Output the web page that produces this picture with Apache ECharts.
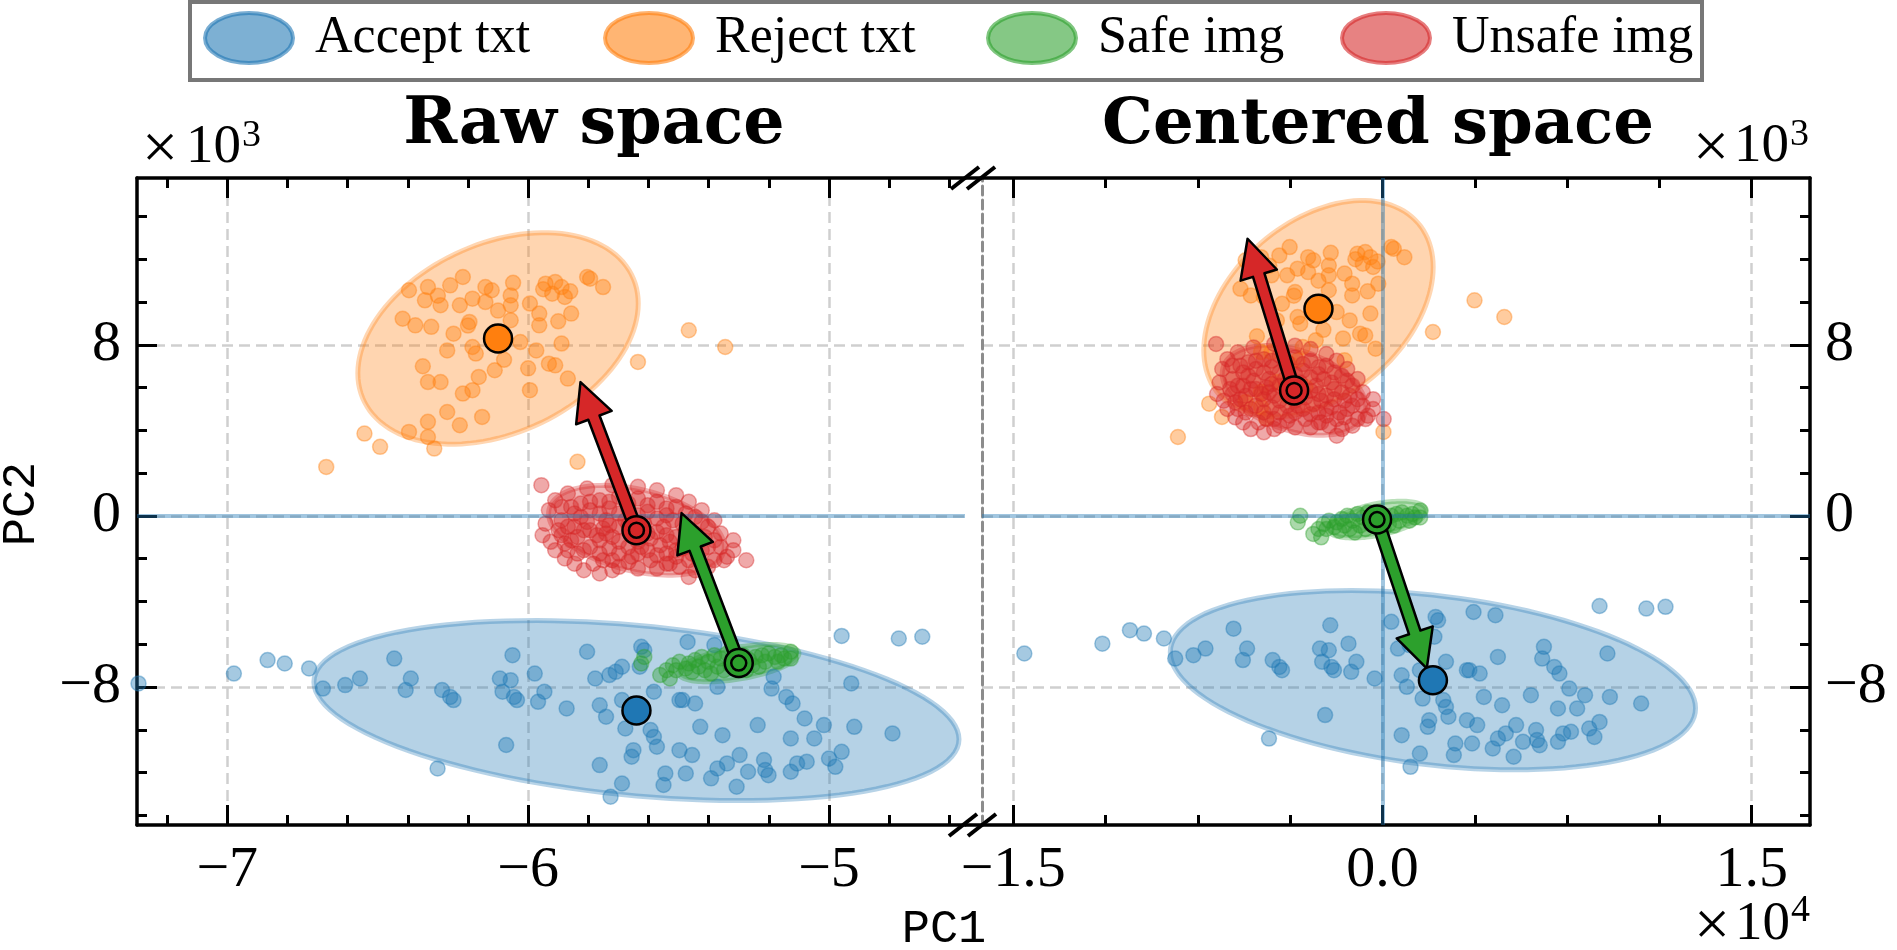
<!DOCTYPE html>
<html>
<head>
<meta charset="utf-8">
<script src="https://cdn.jsdelivr.net/npm/echarts@6/dist/echarts.min.js"></script>
<style>
  html, body { margin: 0; padding: 0; background: #fff; }
  #chart { width: 1897px; height: 950px; }
</style>
</head>
<body>
<div id="chart"></div>
<script>
// class order used everywhere: accept txt, reject txt, safe img, unsafe img
const classNames = ['Accept txt', 'Reject txt', 'Safe img', 'Unsafe img']
const classColors = ['#1f77b4', '#ff7f0e', '#2ca02c', '#d62728']

// tick values (PC1 in 1e4, PC2 in 1e3)
const xTicksRaw = [-7, -6, -5]
const xMinorRaw = [-7.2, -6.8, -6.6, -6.4, -6.2, -5.8, -5.6, -5.4, -5.2, -4.8, -4.6]
const xTicksCen = [-1.5, 0, 1.5]
const xMinorCen = [-1.125, -0.75, -0.375, 0.375, 0.75, 1.125]
const yTicks = [-8, 0, 8]
const yMinor = [-14, -12, -10, -6, -4, -2, 2, 4, 6, 10, 12, 14]
const xRangeRaw = [-7.3, -4.548]
const xRangeCen = [-1.627, 1.737]
const yRange = [-14.45, 15.8]

// raw space samples (PC1, PC2)
const acceptRaw = [
  [-7.295, -7.83], [-6.978, -7.37], [-6.866, -6.74], [-6.809, -6.90], [-6.728, -7.13], [-6.682, -8.07],
  [-6.608, -7.91], [-6.559, -7.60], [-6.445, -6.67], [-6.390, -7.60], [-6.407, -8.14], [-6.286, -8.14],
  [-6.259, -8.46], [-6.248, -8.61], [-6.094, -7.60], [-6.058, -7.68], [-6.085, -8.22], [-6.047, -8.46],
  [-6.037, -8.61], [-5.978, -7.37], [-6.052, -6.51], [-5.946, -8.22], [-5.967, -8.69], [-5.872, -9.00],
  [-5.804, -6.35], [-5.777, -7.60], [-5.730, -7.44], [-5.709, -7.29], [-5.688, -7.05], [-5.762, -8.85],
  [-5.741, -9.39], [-5.688, -8.61], [-5.677, -9.94], [-5.624, -6.12], [-5.614, -6.28], [-5.629, -7.05],
  [-5.582, -8.22], [-5.593, -10.01], [-5.582, -10.33], [-5.572, -10.79], [-5.497, -8.61], [-5.487, -8.61],
  [-5.445, -8.77], [-5.470, -5.89], [-5.381, -6.04], [-5.371, -7.99], [-5.428, -9.86], [-5.354, -10.25],
  [-5.237, -9.78], [-5.184, -7.52], [-5.191, -8.07], [-5.142, -8.46], [-5.121, -8.77], [-5.081, -9.47],
  [-5.017, -9.78], [-4.926, -7.83], [-4.916, -9.86], [-4.789, -10.17], [-5.127, -10.40], [-5.049, -10.40],
  [-4.958, -11.03], [-5.000, -11.34], [-4.979, -11.73], [-5.074, -11.49], [-5.127, -11.96], [-5.212, -11.88],
  [-5.201, -12.12], [-5.297, -11.18], [-5.339, -11.57], [-5.371, -11.81], [-5.392, -12.27], [-5.476, -12.04],
  [-5.455, -11.18], [-5.497, -10.95], [-5.650, -10.95], [-5.656, -11.26], [-5.544, -12.04], [-5.550, -12.58],
  [-5.688, -12.51], [-5.726, -13.13], [-5.762, -11.65], [-6.073, -10.71], [-6.301, -11.81], [-5.269, -11.96],
  [-5.307, -12.66], [-5.216, -11.41], [-5.106, -11.57], [-4.958, -5.61], [-4.768, -5.73], [-4.690, -5.65]
]
const rejectRaw = [
  [-6.217, 11.17], [-6.142, 10.70], [-6.396, 10.55], [-6.333, 10.70], [-6.259, 10.78], [-6.121, 10.55],
  [-6.058, 10.31], [-5.942, 10.86], [-5.910, 10.94], [-5.889, 10.70], [-5.920, 10.39], [-5.878, 10.24],
  [-5.804, 11.17], [-5.751, 10.70], [-5.794, 11.09], [-6.185, 10.16], [-6.227, 9.85], [-6.291, 9.85],
  [-6.343, 10.08], [-6.142, 10.00], [-6.058, 9.85], [-5.994, 9.93], [-5.963, 9.46], [-5.857, 9.46],
  [-6.417, 9.22], [-6.375, 8.91], [-6.322, 8.84], [-6.248, 8.52], [-6.195, 9.07], [-6.185, 7.90],
  [-6.174, 7.59], [-6.026, 8.13], [-5.973, 7.74], [-5.889, 8.06], [-5.963, 8.91], [-5.931, 7.12],
  [-5.910, 7.04], [-5.868, 6.42], [-5.994, 5.88], [-6.111, 6.81], [-6.164, 6.50], [-6.185, 5.88],
  [-6.217, 5.72], [-6.333, 6.26], [-6.291, 6.26], [-6.269, 4.86], [-6.153, 4.63], [-6.227, 4.24],
  [-6.333, 4.40], [-6.396, 3.93], [-6.333, 3.69], [-6.544, 3.85], [-6.492, 3.23], [-6.312, 3.15],
  [-6.671, 2.29], [-5.836, 2.53], [-5.635, 7.20], [-5.466, 8.68], [-5.345, 7.90], [-6.058, 9.15],
  [-6.269, 7.74], [-5.950, 10.60], [-5.860, 10.50], [-6.050, 10.90], [-6.300, 10.30], [-6.100, 9.60],
  [-5.900, 9.10], [-6.080, 7.30], [-6.000, 6.90], [-6.350, 7.00], [-6.200, 8.90]
]
const safeRaw = [
  [-5.561, -7.44], [-5.540, -7.21], [-5.519, -6.98], [-5.497, -6.82], [-5.466, -6.90], [-5.445, -6.74],
  [-5.423, -6.59], [-5.402, -6.82], [-5.381, -6.51], [-5.360, -6.67], [-5.339, -6.43], [-5.318, -6.59],
  [-5.286, -6.51], [-5.265, -6.74], [-5.244, -6.59], [-5.223, -6.51], [-5.201, -6.43], [-5.180, -6.59],
  [-5.159, -6.51], [-5.127, -6.35], [-5.127, -6.67], [-5.508, -7.21], [-5.476, -7.13], [-5.434, -7.05],
  [-5.413, -7.21], [-5.371, -7.05], [-5.328, -6.98], [-5.297, -7.05], [-5.254, -6.98], [-5.212, -6.82],
  [-5.170, -6.82], [-5.148, -6.67], [-5.529, -7.60], [-5.614, -6.59], [-5.624, -6.90], [-5.349, -7.21],
  [-5.275, -7.21], [-5.392, -7.37], [-5.455, -7.29], [-5.233, -7.05]
]
const unsafeRaw = [
  [-5.956, 1.44], [-5.952, -0.90], [-5.910, -1.60], [-5.878, -1.99], [-5.846, -2.23], [-5.762, -2.69],
  [-5.720, -2.54], [-5.572, -2.46], [-5.466, -2.85], [-5.402, -2.38], [-5.339, -1.91], [-5.275, -2.07],
  [-5.318, -1.14], [-5.360, -0.82], [-5.381, -0.20], [-5.423, 0.27], [-5.466, 0.66], [-5.508, 0.97],
  [-5.572, 1.20], [-5.635, 1.36], [-5.720, 1.44], [-5.804, 1.28], [-5.868, 1.05], [-5.910, 0.73],
  [-5.931, 0.27], [-5.942, -0.36], [-5.889, 0.42], [-5.825, 0.58], [-5.762, 0.73], [-5.698, 0.89],
  [-5.635, 0.81], [-5.572, 0.66], [-5.508, 0.42], [-5.445, -0.05], [-5.402, -0.51], [-5.381, -1.14],
  [-5.423, -1.60], [-5.466, -2.07], [-5.529, -2.23], [-5.593, -2.07], [-5.656, -1.91], [-5.720, -2.07],
  [-5.783, -2.23], [-5.836, -1.76], [-5.878, -1.29], [-5.899, -0.67], [-5.889, -0.20], [-5.846, 0.11],
  [-5.794, 0.27], [-5.730, 0.35], [-5.667, 0.35], [-5.603, 0.19], [-5.540, 0.03], [-5.487, -0.36],
  [-5.445, -0.82], [-5.434, -1.21], [-5.487, -1.52], [-5.540, -1.76], [-5.603, -1.60], [-5.667, -1.45],
  [-5.730, -1.52], [-5.794, -1.45], [-5.836, -0.98], [-5.846, -0.51], [-5.804, -0.28], [-5.741, -0.20],
  [-5.677, -0.20], [-5.614, -0.36], [-5.550, -0.51], [-5.508, -0.98], [-5.529, -1.21], [-5.593, -1.06],
  [-5.656, -0.90], [-5.720, -0.98], [-5.772, -0.90], [-5.794, -0.67], [-5.751, -0.59], [-5.698, -0.51],
  [-5.635, -0.67], [-5.572, -0.75], [-5.635, -1.21], [-5.698, -1.21], [-5.762, -1.14], [-5.508, -1.91],
  [-5.360, -1.45], [-5.318, -1.60], [-5.381, -2.07], [-5.445, -2.54], [-5.635, -2.46], [-5.698, -2.38],
  [-5.815, -2.54], [-5.889, -0.90], [-5.925, -1.21], [-5.434, -1.99], [-5.497, -2.38], [-5.857, 0.42],
  [-5.794, 0.66], [-5.730, 0.66], [-5.667, 0.58], [-5.603, 0.50], [-5.540, 0.35], [-5.476, 0.11],
  [-5.423, -0.28], [-5.413, -0.98], [-5.402, -1.45], [-5.455, -1.76], [-5.508, -1.60], [-5.572, -1.84],
  [-5.635, -1.76], [-5.698, -1.76], [-5.762, -1.76], [-5.815, -1.60], [-5.868, -1.60], [-5.857, -1.14],
  [-5.868, -0.51], [-5.825, -0.05], [-5.762, 0.11], [-5.698, 0.11], [-5.635, 0.03], [-5.572, -0.12],
  [-5.519, -0.20], [-5.476, -0.67], [-5.476, -1.14], [-5.561, -1.37], [-5.624, -1.45], [-5.815, -0.67],
  [-5.741, -0.82], [-5.603, -0.82], [-5.540, -0.90], [-5.667, -0.43], [-5.730, -0.43], [-5.349, -2.07],
  [-5.540, -2.23], [-5.667, -2.15], [-5.751, -2.07]
]

// centered space = raw space + modality offset (text / image)
const textOffset = [5.84, 1.40]
const imageOffset = [5.28, 6.60]

// class means, per space
const meansRaw = [[-5.64, -9.10], [-6.10, 8.30], [-5.30, -6.88], [-5.64, -0.67]]
const meansCen = [[0.205, -7.68], [-0.26, 9.69], [-0.022, -0.17], [-0.359, 5.87]]

// covariance ellipses: centre x, centre y, rightmost-vertex offset (dx, dy), vertical half chord
const ellipsesRaw = [
  [-5.64, -9.10, 1.072, -1.34, 3.99],
  [-6.10, 8.30, 0.466, 1.63, 4.67],
  [-5.30, -6.88, 0.20, 0.45, 0.75],
  [-5.64, -0.67, 0.292, -0.78, 1.95]
]
const ellipsesCen = [
  [0.205, -7.68, 1.067, -1.31, 3.98],
  [-0.26, 9.69, 0.466, 1.94, 4.67],
  [-0.022, -0.17, 0.20, 0.42, 0.75],
  [-0.359, 5.87, 0.292, -0.78, 1.95]
]

// shift arrows: from the image mean to the tip
const unsafeArrowRaw = [-5.64, -0.67, -5.826, 6.26]
const safeArrowRaw = [-5.30, -6.88, -5.49, 0.13]
const unsafeArrowCen = [-0.359, 5.87, -0.548, 12.96]
const safeArrowCen = [-0.022, -0.17, 0.18, -7.13]

const SERIF = 'Liberation Serif'
const BOLD_SERIF = 'DejaVu Serif'
const MONO = 'Liberation Mono'

function rgba(hex, a) {
  const n = parseInt(hex.slice(1), 16)
  return `rgba(${(n >> 16) & 255}, ${(n >> 8) & 255}, ${n & 255}, ${a})`
}

function minusFmt(digits) {
  return (v) => {
    const s = Math.abs(v).toFixed(digits)
    return v < 0 ? '\u2212' + s : s
  }
}

function shifted(points, offset) {
  return points.map((p) => [p[0] + offset[0], p[1] + offset[1]])
}

// 目的: 用 custom series 画协方差椭圆，点全部经由坐标轴换算
function ellipseItem(color) {
  return (params, api) => {
    const cx = api.value(0)
    const cy = api.value(1)
    const ux = api.value(2)
    const uy = api.value(3)
    const vh = api.value(4)
    const points = []
    for (let k = 0; k < 120; k++) {
      const t = (k / 120) * Math.PI * 2
      points.push(api.coord([cx + ux * Math.cos(t), cy + uy * Math.cos(t) + vh * Math.sin(t)]))
    }
    return {
      type: 'polygon',
      shape: { points },
      style: { fill: rgba(color, 0.33), stroke: rgba(color, 0.32), lineWidth: 5 }
    }
  }
}

function arrowItem(color) {
  return (params, api) => {
    const p0 = api.coord([api.value(0), api.value(1)])
    const p1 = api.coord([api.value(2), api.value(3)])
    const dx = p1[0] - p0[0]
    const dy = p1[1] - p0[1]
    const len = Math.hypot(dx, dy)
    const ux = dx / len
    const uy = dy / len
    const nx = -uy
    const ny = ux
    const w = 6
    const hw = 19
    const hl = 38
    const bx = p1[0] - ux * hl
    const by = p1[1] - uy * hl
    return {
      type: 'polygon',
      shape: {
        points: [
          [p0[0] + nx * w, p0[1] + ny * w],
          [bx + nx * w, by + ny * w],
          [bx + nx * hw, by + ny * hw],
          [p1[0], p1[1]],
          [bx - nx * hw, by - ny * hw],
          [bx - nx * w, by - ny * w],
          [p0[0] - nx * w, p0[1] - ny * w]
        ]
      },
      style: { fill: color, stroke: '#000', lineWidth: 2.5, lineJoin: 'round' }
    }
  }
}

const tickLine = { color: '#000', width: 3 }
const gridDash = { color: '#cfcfcf', width: 2.5, type: [11, 6] }

function xAxisDef(gridIndex, position, range, ticks, len, extra) {
  return Object.assign({
    type: 'value', gridIndex, position, min: range[0], max: range[1],
    axisLine: { show: false, onZero: false },
    axisTick: { show: true, inside: true, length: len, customValues: ticks, lineStyle: tickLine },
    axisLabel: { show: false },
    splitLine: { show: false }
  }, extra || {})
}

function yAxisDef(gridIndex, position, ticks, len, extra) {
  return Object.assign({
    type: 'value', gridIndex, position, min: yRange[0], max: yRange[1],
    axisLine: { show: false, onZero: false },
    axisTick: { show: true, inside: true, length: len, customValues: ticks, lineStyle: tickLine },
    axisLabel: { show: false },
    splitLine: { show: false }
  }, extra || {})
}

const spine = { show: true, onZero: false, lineStyle: { color: '#000', width: 3.5 } }
const labelStyle = { fontFamily: SERIF, fontSize: 58, color: '#000' }

const xAxes = [
  // raw panel
  xAxisDef(0, 'bottom', xRangeRaw, xTicksRaw, 20, {
    axisLine: spine,
    axisLabel: Object.assign({ show: true, customValues: xTicksRaw, margin: 17, formatter: minusFmt(0) }, labelStyle),
    splitLine: { show: true, lineStyle: gridDash }
  }),
  xAxisDef(0, 'bottom', xRangeRaw, xMinorRaw, 10),
  xAxisDef(0, 'top', xRangeRaw, xTicksRaw, 20, { axisLine: spine }),
  xAxisDef(0, 'top', xRangeRaw, xMinorRaw, 10),
  // centered panel
  xAxisDef(1, 'bottom', xRangeCen, xTicksCen, 20, {
    axisLine: spine,
    axisLabel: Object.assign({ show: true, customValues: xTicksCen, margin: 17, formatter: minusFmt(1) }, labelStyle),
    splitLine: { show: true, lineStyle: gridDash }
  }),
  xAxisDef(1, 'bottom', xRangeCen, xMinorCen, 10),
  xAxisDef(1, 'top', xRangeCen, xTicksCen, 20, { axisLine: spine }),
  xAxisDef(1, 'top', xRangeCen, xMinorCen, 10)
]

const yAxes = [
  yAxisDef(0, 'left', yTicks, 20, {
    axisLine: spine,
    axisLabel: Object.assign({ show: true, customValues: yTicks, margin: 16, formatter: minusFmt(0) }, labelStyle),
    splitLine: { show: true, lineStyle: gridDash }
  }),
  yAxisDef(0, 'left', yMinor, 10),
  yAxisDef(1, 'right', yTicks, 20, {
    axisLine: spine,
    axisLabel: Object.assign({ show: true, customValues: yTicks, margin: 15, formatter: minusFmt(0) }, labelStyle),
    splitLine: { show: true, lineStyle: gridDash }
  }),
  yAxisDef(1, 'right', yMinor, 10),
  // dashed divider at the left edge of the centered panel
  yAxisDef(1, 'left', [], 0, {
    axisLine: { show: true, onZero: false, lineStyle: { color: '#8c8c8c', width: 3, type: [9, 5] } },
    axisTick: { show: false }
  })
]

const panels = [
  { xi: 0, yi: 0, points: [acceptRaw, rejectRaw, safeRaw, unsafeRaw], means: meansRaw, ellipses: ellipsesRaw,
    arrows: [unsafeArrowRaw, safeArrowRaw], vline: false },
  { xi: 4, yi: 2,
    points: [shifted(acceptRaw, textOffset), shifted(rejectRaw, textOffset), shifted(safeRaw, imageOffset), shifted(unsafeRaw, imageOffset)],
    means: meansCen, ellipses: ellipsesCen, arrows: [unsafeArrowCen, safeArrowCen], vline: true }
]

const series = []
const zeroLine = { color: 'rgba(31, 119, 180, 0.42)', width: 4, type: 'solid' }
const meanStyle = (i) => ({ color: classColors[i], borderColor: '#000', borderWidth: 2.5, opacity: 1 })
panels.forEach((p) => {
  const axes = { xAxisIndex: p.xi, yAxisIndex: p.yi }
  const refLines = [{ yAxis: 0 }]
  if (p.vline) refLines.push({ xAxis: 0 })
  series.push(Object.assign({
    type: 'scatter', name: 'zero lines', data: [], silent: true, z: 1,
    markLine: { silent: true, symbol: 'none', label: { show: false }, lineStyle: zeroLine, data: refLines }
  }, axes))
  classNames.forEach((name, i) => {
    series.push(Object.assign({
      type: 'custom', name, silent: true, z: 2,
      renderItem: ellipseItem(classColors[i]),
      encode: { x: 0, y: 1 },
      data: [p.ellipses[i]]
    }, axes))
  })
  classNames.forEach((name, i) => {
    series.push(Object.assign({
      type: 'scatter', name, silent: true, z: 3, symbolSize: 15,
      itemStyle: { color: rgba(classColors[i], 0.4), borderColor: rgba(classColors[i], 0.4), borderWidth: 1.5, opacity: 1 },
      data: p.points[i]
    }, axes))
  })
  series.push(Object.assign({
    type: 'custom', name: 'unsafe shift', silent: true, z: 5,
    renderItem: arrowItem(classColors[3]), encode: { x: [0, 2], y: [1, 3] }, data: [p.arrows[0]]
  }, axes))
  series.push(Object.assign({
    type: 'custom', name: 'safe shift', silent: true, z: 5,
    renderItem: arrowItem(classColors[2]), encode: { x: [0, 2], y: [1, 3] }, data: [p.arrows[1]]
  }, axes))
  // image means: ringed marker over the arrow tail
  series.push(Object.assign({
    type: 'scatter', name: 'image means', silent: true, z: 6, symbolSize: 28,
    data: [2, 3].map((i) => ({ value: p.means[i], itemStyle: meanStyle(i) }))
  }, axes))
  series.push(Object.assign({
    type: 'scatter', name: 'image means inner', silent: true, z: 7, symbolSize: 15,
    data: [2, 3].map((i) => ({ value: p.means[i], itemStyle: meanStyle(i) }))
  }, axes))
  series.push(Object.assign({
    type: 'scatter', name: 'text means', silent: true, z: 6, symbolSize: 28,
    data: [0, 1].map((i) => ({ value: p.means[i], itemStyle: meanStyle(i) }))
  }, axes))
})

const ellipseIcon = 'path://M0,50 A50,50 0 1,1 100,50 A50,50 0 1,1 0,50 Z'
const legendLeft = [203, 603, 986, 1340]
const legends = classNames.map((name, i) => ({
  data: [{
    name,
    icon: ellipseIcon,
    itemStyle: { color: rgba(classColors[i], 0.58), borderColor: rgba(classColors[i], 0.6), borderWidth: 4 }
  }],
  left: legendLeft[i],
  top: 11,
  padding: 0,
  itemWidth: 88,
  itemHeight: 50,
  symbolKeepAspect: false,
  selectedMode: false,
  textStyle: { fontFamily: SERIF, fontSize: 52, color: '#000', padding: [0, 0, 0, 17] }
}))

function blackLine(x1, y1, x2, y2, w) {
  return { type: 'line', shape: { x1, y1, x2, y2 }, style: { stroke: '#000', lineWidth: w }, z: 10 }
}
function txt(text, x, y, font, extra) {
  return { type: 'text', x, y, z: 10, style: Object.assign({ text, fill: '#000', font, textAlign: 'left', textVerticalAlign: 'middle' }, extra || {}) }
}

const graphics = [
  { type: 'rect', shape: { x: 190, y: 2, width: 1512, height: 78 }, style: { fill: '#fff', stroke: '#777', lineWidth: 4 }, z: -1 },
  // broken-axis marks and the bridging spine
  blackLine(965, 178, 982, 178, 3.5),
  blackLine(965, 825, 982, 825, 3.5),
  blackLine(951, 189, 979, 167, 4),
  blackLine(967, 189, 995, 167, 4),
  blackLine(949, 836, 977, 814, 4),
  blackLine(968, 836, 996, 814, 4),
  txt('Raw space', 594, 126, `bold 65px "${BOLD_SERIF}"`, { textAlign: 'center' }),
  txt('Centered space', 1378, 126, `bold 64px "${BOLD_SERIF}"`, { textAlign: 'center' }),
  // offset labels: times sign, mantissa, exponent
  txt('\u00d7', 142, 151, `64px "${SERIF}"`),
  txt('10', 241, 148, `55px "${SERIF}"`, { textAlign: 'right' }),
  txt('3', 242, 136, `38px "${SERIF}"`),
  txt('\u00d7', 1693, 150, `64px "${SERIF}"`),
  txt('10', 1789, 147, `55px "${SERIF}"`, { textAlign: 'right' }),
  txt('3', 1790, 135, `38px "${SERIF}"`),
  txt('\u00d7', 1694, 928, `64px "${SERIF}"`),
  txt('10', 1790, 925, `55px "${SERIF}"`, { textAlign: 'right' }),
  txt('4', 1791, 911, `38px "${SERIF}"`),
  txt('PC1', 944, 930, `47px "${MONO}"`, { textAlign: 'center' }),
  { type: 'text', x: 22, y: 504, rotation: Math.PI / 2, z: 10,
    style: { text: 'PC2', fill: '#000', font: `47px "${MONO}"`, textAlign: 'center', textVerticalAlign: 'middle' } }
]

const chart = echarts.init(document.getElementById('chart'), null, { renderer: 'canvas' })
chart.setOption({
  backgroundColor: '#fff',
  animation: false,
  legend: legends,
  grid: [
    { left: 137, top: 178, width: 828, height: 647, outerBoundsMode: 'none', containLabel: false },
    { left: 982, top: 178, width: 828, height: 647, outerBoundsMode: 'none', containLabel: false }
  ],
  xAxis: xAxes,
  yAxis: yAxes,
  series,
  graphic: graphics
})
</script>
</body>
</html>
